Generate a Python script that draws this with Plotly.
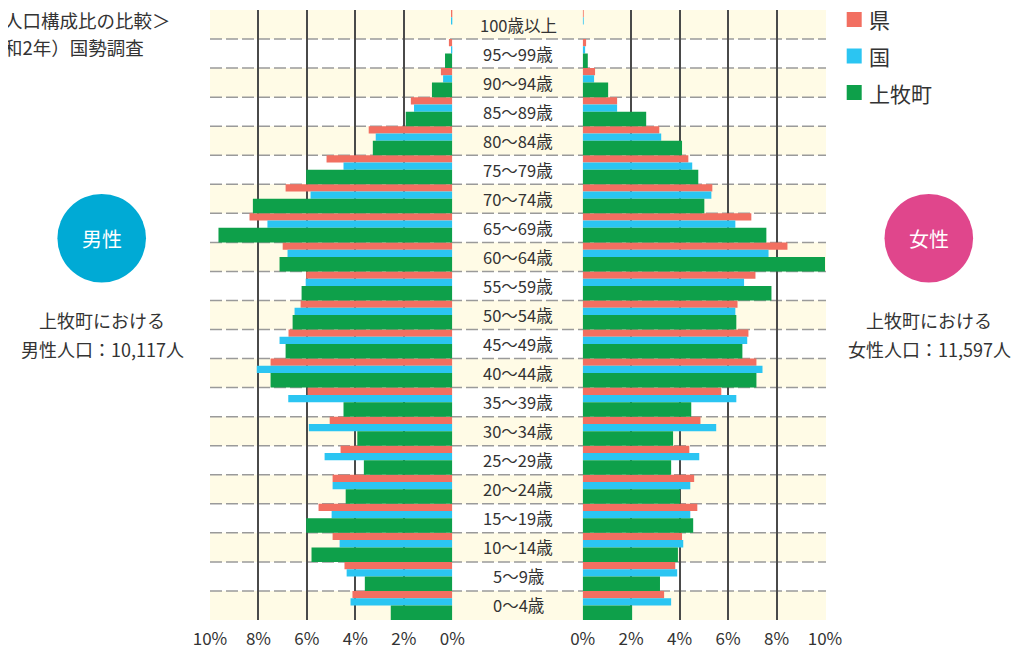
import plotly.graph_objects as go

ages = ["100歳以上", "95〜99歳", "90〜94歳", "85〜89歳", "80〜84歳", "75〜79歳", "70〜74歳",
        "65〜69歳", "60〜64歳", "55〜59歳", "50〜54歳", "45〜49歳", "40〜44歳", "35〜39歳",
        "30〜34歳", "25〜29歳", "20〜24歳", "15〜19歳", "10〜14歳", "5〜9歳", "0〜4歳"]

# male (%)
male_ken = [0.05, 0.14, 0.47, 1.71, 3.45, 5.19, 6.88, 8.37, 7.00, 6.03, 6.26, 6.76, 7.50, 5.97,
            5.06, 4.61, 4.94, 5.52, 4.94, 4.45, 4.12]
male_kuni = [0.03, 0.05, 0.38, 1.58, 3.16, 4.49, 5.85, 7.63, 6.80, 6.05, 6.51, 7.13, 8.07, 6.77,
             5.92, 5.27, 4.94, 4.98, 4.65, 4.36, 4.20]
male_town = [0.0, 0.30, 0.84, 1.92, 3.28, 6.03, 8.23, 9.65, 7.13, 6.22, 6.59, 6.88, 7.50, 4.49,
             3.92, 3.65, 4.40, 6.03, 5.81, 3.61, 2.54]
# female (%)
female_ken = [0.04, 0.14, 0.51, 1.42, 3.16, 4.36, 5.35, 6.96, 8.45, 7.13, 6.39, 6.84, 7.17, 5.72,
              4.86, 4.40, 4.60, 4.73, 4.10, 3.82, 3.36]
female_kuni = [0.03, 0.10, 0.47, 1.42, 3.24, 4.52, 5.31, 6.30, 7.67, 6.66, 6.30, 6.79, 7.42, 6.34,
               5.51, 4.81, 4.44, 4.44, 4.15, 3.90, 3.65]
female_town = [0.0, 0.21, 1.05, 2.62, 4.10, 4.77, 5.02, 7.58, 10.0, 7.79, 6.34, 6.59, 7.17, 4.48,
               3.73, 3.65, 4.02, 4.56, 3.93, 3.19, 2.04]

series_names = ["県", "国", "上牧町"]
colors = ["#F26F61", "#2BC5F2", "#0EA04A"]
ticks = [0, 2, 4, 6, 8, 10]

# page offset (default body margin) and figure size
OX, OY = 8, 8
W, H = 1012, 640
def px(x):
    return (x - OX) / W
def py(y):
    return 1 - (y - OY) / H

FONT = "Noto Sans CJK JP"
TXT = "#333333"

fig = go.Figure()
widths = [0.25, 0.25, 0.5]
offsets = [-0.5, -0.25, 0.0]
male = [male_ken, male_kuni, male_town]
female = [female_ken, female_kuni, female_town]
for i in range(3):
    fig.add_trace(go.Bar(y=ages, x=male[i], orientation="h", name=series_names[i],
                         marker=dict(color=colors[i], line=dict(width=0)),
                         width=widths[i], offset=offsets[i], xaxis="x", yaxis="y",
                         legendgroup=series_names[i], showlegend=False, hoverinfo="skip"))
for i in range(3):
    fig.add_trace(go.Bar(y=ages, x=female[i], orientation="h", name=series_names[i],
                         marker=dict(color=colors[i], line=dict(width=0)),
                         width=widths[i], offset=offsets[i], xaxis="x2", yaxis="y",
                         legendgroup=series_names[i], showlegend=False, hoverinfo="skip"))

n = len(ages)
shapes = []
for i in range(n):
    if i % 2 == 0:
        shapes.append(dict(type="rect", xref="paper", yref="y", x0=px(210), x1=px(826),
                           y0=i - 0.5, y1=i + 0.5, fillcolor="#FFFBE6", line=dict(width=0),
                           layer="below"))
for i in range(n - 1):
    shapes.append(dict(type="line", xref="paper", yref="y", x0=px(210), x1=px(826),
                       y0=i + 0.5, y1=i + 0.5, line=dict(color="#9a9a9a", width=1.5, dash="12px,4px"),
                       layer="below"))
# circles
R = 44.3
for cx, col in [(101.7, "#00AAD5"), (928.8, "#E0468C")]:
    shapes.append(dict(type="circle", xref="paper", yref="paper",
                       x0=px(cx - R), x1=px(cx + R), y0=py(238.3 + R), y1=py(238.3 - R),
                       fillcolor=col, line=dict(width=0)))

annotations = []
for i, a in enumerate(ages):
    annotations.append(dict(text=a, x=px(518), xref="paper", y=i, yref="y", showarrow=False,
                            xanchor="center", yanchor="middle", font=dict(size=16.5, color=TXT, family=FONT)))

def note(text, x, y, size=18, color=TXT, anchor="center"):
    annotations.append(dict(text=text, x=px(x), y=py(y), xref="paper", yref="paper", showarrow=False,
                            xanchor=anchor, yanchor="middle", font=dict(size=size, color=color, family=FONT)))

# legend (drawn as swatches + labels)
for k, (name, col) in enumerate(zip(series_names, colors)):
    cy = 19.5 + k * 36.5
    shapes.append(dict(type="rect", xref="paper", yref="paper", x0=px(846.7), x1=px(861.7),
                       y0=py(cy + 7.5), y1=py(cy - 7.5), fillcolor=col, line=dict(width=0)))
    note(name, 867, cy, size=21, anchor="left")

note("＜年齢別人口構成比の比較＞", 173, 20, size=18.5, anchor="right")
note("（令和2年）国勢調査", 146, 47, size=18.5, anchor="right")
note("男性", 101.7, 238.3, size=20, color="white")
note("女性", 928.8, 238.3, size=20, color="white")
note("上牧町における", 102, 320)
note("男性人口：10,117人", 102, 349)
note("上牧町における", 929, 320)
note("女性人口：11,597人", 929, 349)

axis_common = dict(tickvals=ticks, ticktext=[f"{t}%" for t in ticks], showgrid=True,
                   gridcolor="#4a4a4a", gridwidth=1.5, zeroline=False, showline=False,
                   ticks="outside", ticklen=4, tickcolor="rgba(0,0,0,0)", automargin=False,
                   tickfont=dict(size=17, color=TXT, family=FONT), fixedrange=True)

fig.update_layout(
    width=W, height=H, autosize=False,
    margin=dict(l=0, r=0, t=0, b=0, pad=0),
    paper_bgcolor="white", plot_bgcolor="rgba(0,0,0,0)",
    barmode="overlay", showlegend=False,
    xaxis=dict(domain=[px(210), px(452.3)], range=[10, 0], anchor="y", **axis_common),
    xaxis2=dict(domain=[px(582.7), px(825)], range=[0, 10], anchor="y", **axis_common),
    yaxis=dict(domain=[py(620), py(10)], type="category", categoryorder="array", categoryarray=ages,
               range=[n - 0.5, -0.5], showticklabels=False, showgrid=False, zeroline=False,
               showline=False, ticks="", fixedrange=True, automargin=False),
    shapes=shapes, annotations=annotations,
    font=dict(family=FONT, color=TXT),
)

fig.write_html("out.html")
